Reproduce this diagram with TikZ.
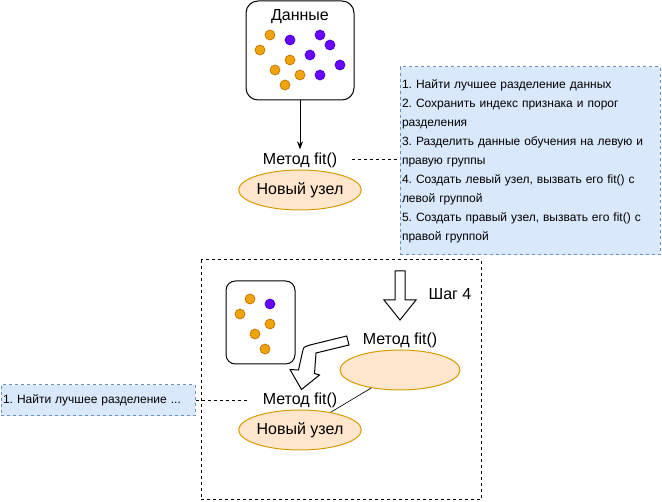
\documentclass[tikz,border=0pt]{standalone}
\usepackage{fontspec}
\setmainfont{Liberation Sans}
\usetikzlibrary{arrows.meta,positioning,shapes.geometric}
\frenchspacing
\definecolor{dotorange}{HTML}{F0A30A}
\definecolor{dotorangeline}{HTML}{BD7000}
\definecolor{dotpurple}{HTML}{6A00FF}
\definecolor{dotpurpleline}{HTML}{3700CC}
\definecolor{nodefill}{HTML}{FFE6CC}
\definecolor{nodeline}{HTML}{D79B00}
\definecolor{notefill}{HTML}{DAE8FC}
\definecolor{noteline}{HTML}{6C8EBF}
\begin{document}
\begin{tikzpicture}[x=0.75pt, y=-0.75pt, line width=0.75pt,
    label/.style = {font=\fontsize{12}{14}\selectfont, inner sep=0pt},
    treenode/.style = {ellipse, draw=nodeline, fill=nodefill, minimum width=90pt, minimum height=30pt, inner sep=0pt, font=\fontsize{12}{14}\selectfont},
    databox/.style = {draw, rounded corners=9pt, inner sep=0pt},
    note/.style = {draw=noteline, fill=notefill, dash pattern=on 2.25pt off 2.25pt, align=left, inner xsep=1.5pt, inner ysep=0pt, font=\fontsize{9}{14.25}\selectfont},
    link/.style = {dash pattern=on 2.25pt off 2.25pt},
    orange/.style = {circle, draw=dotorangeline, fill=dotorange, line width=0.5pt, minimum size=7.5pt, inner sep=0pt},
    purple/.style = {circle, draw=dotpurpleline, fill=dotpurple, line width=0.5pt, minimum size=7.5pt, inner sep=0pt},
    ]
    \useasboundingbox (0,0) rectangle (662,502);
    % top: the data and the first node
    \node[databox, minimum width=81pt, minimum height=74.25pt] (data) at (300,50.5) {};
    \node[label] (datatitle) at (300,17) {Данные};
    \foreach \x/\y in {270/35, 260/50, 290/60, 275/70, 300/75, 285/85}
        \node[orange] at (\x,\y) {};
    \foreach \x/\y in {290/40, 320/35, 330/45, 310/55, 340/65, 320/75}
        \node[purple] at (\x,\y) {};
    \node[label] (fitA) at (300,160) {Метод fit()};
    \node[treenode] (nodeA) at (300,190) {Новый узел};
    \draw[-{Stealth[length=6pt,width=4.5pt]}] (data.south) -- ([yshift=2pt]fitA.north);
    % steps of fit()
    \node[note, minimum width=195pt, minimum height=141pt, text width=192pt] (notes) at (530,161) {%
        1. Найти лучшее разделение данных\\
        2. Сохранить индекс признака и порог\\
        разделения\\
        3. Разделить данные обучения на левую и\\
        правую группы\\
        4. Создать левый узел, вызвать его fit() с\\
        левой группой\\
        5. Создать правый узел, вызвать его fit() с\\
        правой группой};
    \draw[link, shorten <=11pt] (fitA.east) -- (fitA.east -| notes.west);
    % step 4
    \draw[dash pattern=on 2.25pt off 2.25pt] (201,260) rectangle (481,500);
    \draw (395,271) -- (405,271) -- (405,300) -- (416,300) -- (400,320) -- (384,300) -- (395,300) -- cycle;
    \node[label] (step) at (450,294) {Шаг 4};
    \node[label] (fitB) at (400,340) {Метод fit()};
    \node[treenode] (nodeB) at (400,370) {};
    \node[databox, rounded corners=7pt, minimum width=51.75pt, minimum height=62.25pt] (subdata) at (260.5,322.5) {};
    \foreach \x/\y in {250/299, 240/314, 270/324, 255/334, 265/349}
        \node[orange] at (\x,\y) {};
    \node[purple] at (270,304) {};
    \draw (346.7,336) -- (349,345) -- (316,353) -- (314.5,373.5) -- (319.5,375) -- (301.5,389.5)
        -- (290,369.5) -- (298.5,370) -- (302.5,352) .. controls (303.5,347) .. (310,345) -- cycle;
    \node[label] (fitC) at (300,400) {Метод fit()};
    \node[treenode] (nodeC) at (300,430) {Новый узел};
    \draw[line width=0.5pt] (nodeB.212) -- (nodeC.30);
    \node[note, minimum width=145.5pt, minimum height=23.25pt, text width=142.5pt] (notesC) at (98,400.5) {1. Найти лучшее разделение ...};
    \draw[link, shorten >=11pt] (notesC.east) -- (notesC.east -| fitC.west);
\end{tikzpicture}
\end{document}
